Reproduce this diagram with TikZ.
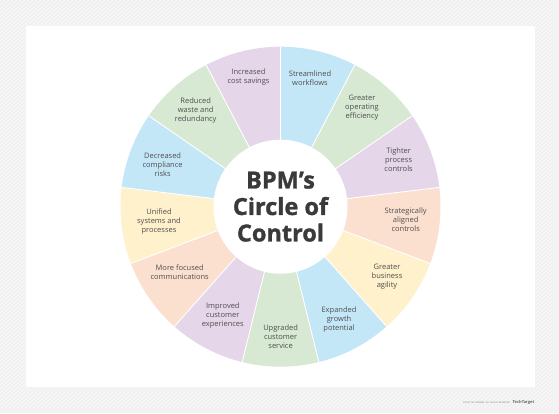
\documentclass[tikz,border=0pt]{standalone}
\usepackage{fontspec}
\setmainfont{Open Sans}
\newfontfamily\titlefont[FakeBold=1.2]{Open Sans Bold}
\definecolor{bgc}{HTML}{EFEFEF}
\definecolor{stripec}{HTML}{F7F7F7}
\definecolor{cB}{HTML}{C4E7F8}
\definecolor{cG}{HTML}{D7E8D3}
\definecolor{cP}{HTML}{E6D6EA}
\definecolor{cO}{HTML}{FBE0D0}
\definecolor{cY}{HTML}{FFF1CC}
\definecolor{labc}{HTML}{4F4F4F}
\definecolor{titc}{HTML}{3A3A3A}
\begin{document}
\begin{tikzpicture}[x=1pt,y=1pt,
  lab/.style={text=labc,font=\fontsize{7.5}{9}\selectfont,align=center,inner sep=0pt},
  ttl/.style={text=titc,font=\titlefont\fontsize{23.5}{26.5}\selectfont,align=center,inner sep=0pt},
  foot/.style={text=gray,font=\fontsize{2.3}{3}\selectfont,inner sep=0pt}]
\useasboundingbox (0,0) rectangle (559,413);
% background
\fill[bgc] (0,0) rectangle (559,413);
\begin{scope}
\clip (0,0) rectangle (559,413);
\foreach \k in {-420,-416,...,560} \draw[stripec,line width=1.2pt] (\k,0) -- ++(413,413);
\end{scope}
\fill[white] (26,26) rectangle (535,387);
% wheel
\coordinate (C) at (280.5,206.3);
\foreach \c [count=\i from 0] in {cB,cG,cP,cO,cY,cB,cG,cP,cO,cY,cB,cG,cP}{
  \fill[\c] (C) -- ++({90-\i*360/13}:160) arc[start angle={90-\i*360/13}, delta angle={-360/13}, radius=160] -- cycle;
}
\foreach \i in {0,...,12}{
  \draw[white,line width=0.9pt] (C) -- ++({90-\i*360/13}:160);
}
\fill[white] (C) circle (67);
% title
\node[ttl] (title) at (C) {BPM’s\\Circle of\\Control};
% labels
\node[lab] (l0) at (310,335) {Streamlined\\workflows};
\node[lab] (l1) at (362,305) {Greater\\operating\\efficiency};
\node[lab] (l2) at (398.6,253) {Tighter\\process\\controls};
\node[lab] (l3) at (405.7,193) {Strategically\\aligned\\controls};
\node[lab] (l4) at (387,136) {Greater\\business\\agility};
\node[lab] (l5) at (339,93) {Expanded\\growth\\potential};
\node[lab] (l6) at (280.6,76) {Upgraded\\customer\\service};
\node[lab] (l7) at (222.8,97) {Improved\\customer\\experiences};
\node[lab] (l8) at (179.7,141) {More focused\\communications};
\node[lab] (l9) at (159,191) {Unified\\systems and\\processes};
\node[lab] (l10) at (162.6,248) {Decreased\\compliance\\risks};
\node[lab] (l11) at (195.7,302) {Reduced\\waste and\\redundancy};
\node[lab] (l12) at (248.5,336) {Increased\\cost savings};
% footer
\node[foot,anchor=east] (ft) at (510,10.3) {©2023 TECHTARGET. ALL RIGHTS RESERVED};
\node[text=gray!80!black,font=\bfseries\fontsize{4}{4}\selectfont,inner sep=0pt,anchor=west] (tt) at (512.5,10.3) {TechTarget};
\end{tikzpicture}
\end{document}
